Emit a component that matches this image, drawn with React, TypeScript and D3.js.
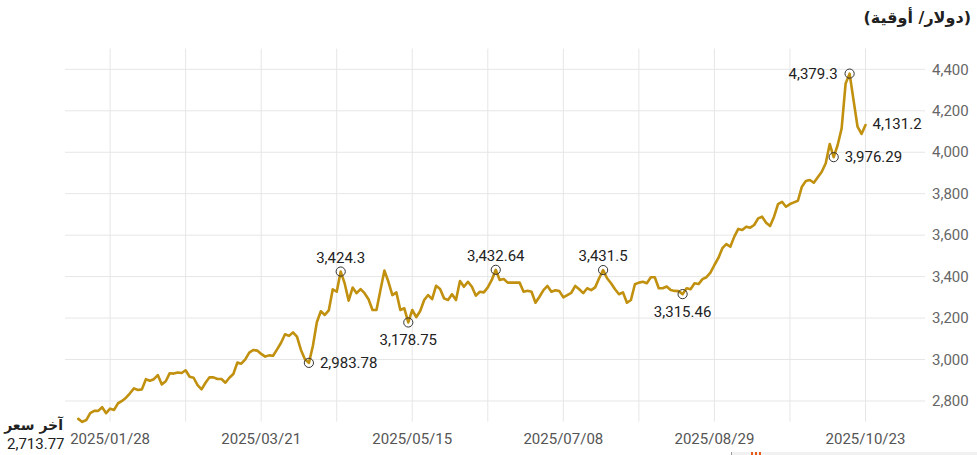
import React from "react";
import * as d3 from "d3";

const prices: number[] = [
  2713.77, 2699, 2708, 2741, 2752, 2752, 2770, 2741, 2763, 2757,
  2789, 2800, 2816, 2837, 2861, 2853, 2856, 2905, 2898, 2905,
  2925, 2880, 2895, 2934, 2932, 2937, 2935, 2948, 2917, 2912,
  2876, 2856, 2888, 2914, 2914, 2906, 2906, 2888, 2912, 2930,
  2985, 2980, 3001, 3033, 3046, 3043, 3027, 3014, 3020, 3018,
  3049, 3081, 3122, 3114, 3131, 3110, 3046, 3001, 2983.78, 3065,
  3180, 3233, 3215, 3237, 3339, 3327, 3424.3, 3367, 3284, 3347,
  3320, 3340, 3320, 3291, 3239, 3239, 3335, 3429, 3375, 3311,
  3324, 3239, 3247, 3178.75, 3239, 3204, 3234, 3287, 3311, 3291,
  3356, 3340, 3295, 3287, 3315, 3287, 3379, 3351, 3375, 3351,
  3308, 3327, 3324, 3348, 3384, 3432.64, 3384, 3388, 3371, 3371,
  3371, 3371, 3327, 3332, 3327, 3274, 3303, 3335, 3355, 3327,
  3334, 3330, 3300, 3311, 3322, 3355, 3339, 3320, 3344, 3335,
  3348, 3392, 3431.5, 3392, 3368, 3339, 3315, 3324, 3274, 3287,
  3363, 3371, 3375, 3368, 3397, 3397, 3344, 3344, 3352, 3335,
  3331, 3330, 3315.46, 3344, 3339, 3368, 3364, 3388, 3397, 3419,
  3456, 3490, 3537, 3557, 3544, 3593, 3630, 3625, 3641, 3636,
  3649, 3681, 3689, 3660, 3644, 3689, 3750, 3761, 3737, 3750,
  3758, 3766, 3834, 3861, 3866, 3853, 3879, 3906, 3947, 4040,
  3976.29, 4035, 4115, 4332, 4379.3, 4250, 4123, 4088, 4131.2,
];

const dateLabels: string[] = [
  "2025/01/28", "2025/03/21", "2025/05/15", "2025/07/08", "2025/08/29", "2025/10/23",
];
const dateLabelIndex: number[] = [8, 46, 84, 122, 160, 198];

const yTicks: number[] = [2800, 3000, 3200, 3400, 3600, 3800, 4000, 4200, 4400];

// annotated points: index and placement
const annotIndex: number[] = [58, 66, 83, 105, 132, 152, 190, 194, 198];
const annotPos: string[] = ["right", "top", "bottom", "top", "top", "bottom", "right", "left", "last"];

const titleText = "(دولار/ أوقية)";
const lastLabel = "آخر سعر";

const fmt = (v: number) => d3.format(",")(v);

export default function App() {
  const W = 977;
  const H = 455;
  const plotLeft = 65;
  const plotRight = 925;
  const x = d3.scaleLinear().domain([0, prices.length - 1]).range([78.3, 865.5]);
  const y = d3.scaleLinear().domain([2700, 4500]).range([421.7, 48.6]);
  const line = d3
    .line<number>()
    .x((_, i) => x(i))
    .y((d) => y(d))
    .curve(d3.curveLinear);

  const gridIdx = d3.range(8, prices.length, 19);
  const font = "Roboto, 'Noto Sans', sans-serif";
  const arFont = "'DejaVu Sans', 'Noto Sans', sans-serif";

  return (
    <svg
      width={W}
      height={H}
      style={{ position: "absolute", left: 0, top: 0, background: "#fff" }}
    >
      {/* horizontal grid */}
      {yTicks.map((t) => (
        <line
          key={"h" + t}
          x1={plotLeft}
          x2={plotRight}
          y1={y(t)}
          y2={y(t)}
          stroke="#e6e6e6"
          strokeWidth={1}
        />
      ))}
      {/* vertical grid */}
      {gridIdx.map((i) => (
        <line
          key={"v" + i}
          x1={x(i)}
          x2={x(i)}
          y1={y(4500)}
          y2={y(2700)}
          stroke="#e6e6e6"
          strokeWidth={1}
        />
      ))}
      {/* y tick labels */}
      {yTicks.map((t) => (
        <text
          key={"yt" + t}
          x={932}
          y={y(t)}
          dy="0.35em"
          fontFamily={font}
          fontSize={15}
          fill="#666"
        >
          {fmt(t)}
        </text>
      ))}
      {/* x labels */}
      {dateLabels.map((d, k) => (
        <text
          key={"xl" + d}
          x={x(dateLabelIndex[k])}
          y={444}
          textAnchor="middle"
          fontFamily={font}
          fontSize={15}
          fill="#555"
        >
          {d}
        </text>
      ))}
      {/* price line */}
      <path
        d={line(prices) || ""}
        fill="none"
        stroke="#c0900e"
        strokeWidth={2.6}
        strokeLinejoin="round"
        strokeLinecap="round"
      />
      {/* annotations */}
      {annotIndex.map((i, k) => {
        const px = x(i);
        const py = y(prices[i]);
        const pos = annotPos[k];
        const label = fmt(prices[i]);
        let tx = px;
        let ty = py;
        let anchor: "start" | "middle" | "end" = "middle";
        let dy = "0.35em";
        if (pos === "top") {
          ty = py - 9;
          dy = "0";
        } else if (pos === "bottom") {
          ty = py + 23;
          dy = "0";
        } else if (pos === "right") {
          tx = px + 11;
          anchor = "start";
        } else if (pos === "left") {
          tx = px - 12;
          anchor = "end";
        } else if (pos === "last") {
          tx = px + 7;
          anchor = "start";
          ty = py - 1;
        }
        return (
          <g key={"a" + i}>
            {pos !== "last" && (
              <circle cx={px} cy={py} r={4.6} fill="none" stroke="#333" strokeWidth={1} />
            )}
            <text
              x={tx}
              y={ty}
              dy={dy}
              textAnchor={anchor}
              fontFamily={font}
              fontSize={15}
              fill="#222"
            >
              {label}
            </text>
          </g>
        );
      })}
      {/* title */}
      <text
        x={971}
        y={23}
        textAnchor="end"
        fontFamily={arFont}
        fontSize={16}
        fontWeight="bold"
        fill="#222"
      >
        {titleText}
      </text>
      {/* last price block */}
      <text
        x={63}
        y={430}
        textAnchor="end"
        fontFamily={arFont}
        fontSize={14}
        fontWeight="bold"
        fill="#222"
      >
        {lastLabel}
      </text>
      <text x={7} y={449} fontFamily={font} fontSize={15} fill="#222">
        {fmt(prices[0])}
      </text>
      {/* cut-off element at bottom right */}
      <rect x={731} y={452} width={246} height={3} fill="#f1f1f1" />
      <line x1={731.5} x2={731.5} y1={452} y2={455} stroke="#999" />
      <rect x={751} y={452} width={2} height={3} fill="#e85a1a" />
      <rect x={755} y={452} width={2} height={3} fill="#e85a1a" />
      <rect x={759} y={452} width={2} height={3} fill="#e85a1a" />
    </svg>
  );
}
